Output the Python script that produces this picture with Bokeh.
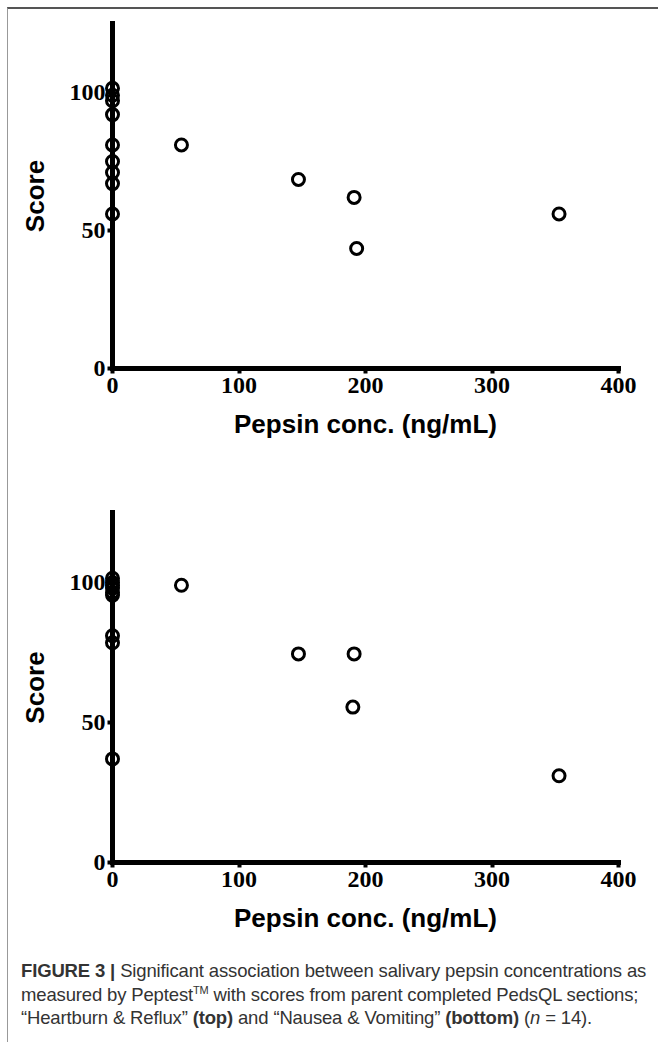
from bokeh.plotting import figure
from bokeh.models import ColumnDataSource, Range1d, FixedTicker, Div
from bokeh.layouts import column
from bokeh.embed import file_html
from bokeh.resources import INLINE

# ---- data ----
x_ticks = [0, 100, 200, 300, 400]
y_ticks = [0, 50, 100]

# Heartburn & Reflux (top)
top_pepsin = [0, 0, 0, 0, 0, 0, 0, 0, 0, 54.5, 147, 191, 193, 353]
top_score = [101.5, 99, 97, 92, 81, 75, 71, 67, 56, 81, 68.5, 62, 43.5, 56]

# Nausea & Vomiting (bottom)
bottom_pepsin = [0, 0, 0, 0, 0, 0, 0, 0, 0, 54.5, 147, 191, 190, 353]
bottom_score = [101.5, 100, 99, 98, 96.5, 95.5, 81, 78.5, 37, 99, 74.5, 74.5, 55.5, 31]

x_label = "Pepsin conc. (ng/mL)"
y_label = "Score"


def make_plot(xs, ys, frame_h, border_top, border_bottom):
    p = figure(
        frame_width=506, frame_height=frame_h,
        x_range=Range1d(0, 400), y_range=Range1d(0, 125),
        output_backend="svg", toolbar_location=None,
        min_border_left=104, min_border_right=20,
        min_border_top=border_top, min_border_bottom=border_bottom,
        background_fill_color="white", border_fill_color="white",
    )
    p.outline_line_color = None
    p.xgrid.visible = False
    p.ygrid.visible = False
    src = ColumnDataSource(dict(x=xs, y=ys))
    p.scatter("x", "y", source=src, size=12, marker="circle",
              fill_alpha=0, line_color="black", line_width=3,
              level="overlay")

    p.xaxis.ticker = FixedTicker(ticks=x_ticks)
    p.yaxis.ticker = FixedTicker(ticks=y_ticks)
    p.xaxis.axis_label = x_label
    p.yaxis.axis_label = y_label
    for ax in (p.xaxis, p.yaxis):
        ax.axis_line_width = 5
        ax.axis_line_color = "black"
        ax.axis_line_cap = "square"
        ax.major_tick_line_width = 4
        ax.major_tick_line_color = "black"
        ax.major_tick_out = 5
        ax.major_tick_in = 0
        ax.minor_tick_line_color = None
        ax.major_label_text_font = "Liberation Serif"
        ax.major_label_text_font_style = "bold"
        ax.major_label_text_font_size = "24px"
        ax.major_label_text_color = "black"
        ax.axis_label_text_font = "Liberation Sans"
        ax.axis_label_text_font_style = "bold"
        ax.axis_label_text_font_size = "26px"
        ax.axis_label_text_color = "black"
    p.xaxis.major_label_standoff = 4
    p.xaxis.axis_label_standoff = 13
    p.yaxis.major_label_standoff = 2
    p.yaxis.major_label_orientation = "horizontal"
    p.yaxis.axis_label_standoff = 17
    return p


p1 = make_plot(top_pepsin, top_score, 345, 14, 87)
p2 = make_plot(bottom_pepsin, bottom_score, 350, 57, 86)

caption = Div(
    text=(
        "<b>FIGURE 3 |</b> Significant association between salivary pepsin concentrations as<br>"
        "measured by Peptest<sup style='font-size:11px; line-height:0'>TM</sup> with scores from parent completed PedsQL sections;<br>"
        "\u201cHeartburn &amp; Reflux\u201d <b>(top)</b> and \u201cNausea &amp; Vomiting\u201d "
        "<b>(bottom)</b> (<i>n</i> = 14)."
    ),
    width=640, height=84,
    styles={
        "font-family": "'Liberation Sans Narrow', 'Liberation Sans', sans-serif",
        "font-size": "18.5px", "line-height": "23.5px", "color": "#333",
        "letter-spacing": "-0.15px",
        "padding-left": "8px", "padding-top": "6px", "white-space": "nowrap",
    },
)

layout = column(p1, p2, caption, spacing=0,
                styles={"margin-left": "7px", "margin-top": "7px",
                        "border-top": "2px solid #555", "border-left": "1px solid #999"})

open("out.html", "w").write(file_html(layout, INLINE))
